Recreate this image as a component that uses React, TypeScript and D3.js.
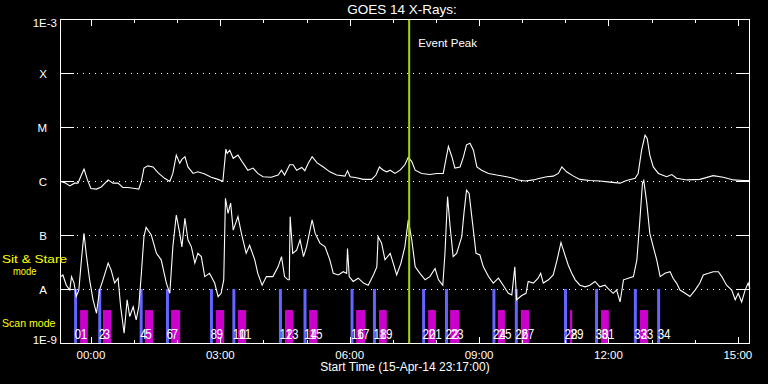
import React from 'react';
import * as d3 from 'd3';

// ---------- data ----------
const titleText = 'GOES 14 X-Rays:';
const xAxisTitle = 'Start Time (15-Apr-14 23:17:00)';
const startHour = -43 / 60; // 23:17 on 15-Apr, hours relative to 16-Apr 00:00
const spanHours = 16;

const classLevels = [1e-4, 1e-5, 1e-6, 1e-7, 1e-8];
const classLetters = ['X', 'M', 'C', 'B', 'A'];
const topLabel = '1E-3';
const bottomLabel = '1E-9';

const timeTickHours = [0, 3, 6, 9, 12, 15];
const timeTickLabels = ['00:00', '03:00', '06:00', '09:00', '12:00', '15:00'];
const minorTickHours = [1, 2, 4, 5, 7, 8, 10, 11, 13, 14];

const eventPeakHour = 7.38;

// long channel (1-8 A): [hour, log10 flux]
const longChannel: [number, number][] = [
  [-0.70, -6.01], [-0.61, -6.03], [-0.49, -6.09], [-0.38, -6.04], [-0.30, -6.04], [-0.22, -5.89],
  [-0.16, -5.78], [-0.08, -5.98], [0.00, -6.14], [0.13, -6.15], [0.24, -6.11], [0.40, -5.98],
  [0.51, -6.04], [0.63, -6.04], [0.74, -6.12], [0.86, -6.12], [1.02, -6.14], [1.11, -6.15],
  [1.17, -6.01], [1.23, -5.76], [1.32, -5.72], [1.44, -5.74], [1.56, -5.85], [1.71, -5.95],
  [1.83, -6.01], [1.90, -5.86], [1.98, -5.52], [2.06, -5.67], [2.11, -5.60], [2.18, -5.55],
  [2.25, -5.74], [2.37, -5.86], [2.48, -5.83], [2.64, -5.87], [2.79, -5.93], [2.95, -5.97],
  [3.06, -6.01], [3.13, -5.41], [3.16, -5.49], [3.22, -5.43], [3.30, -5.58], [3.41, -5.52],
  [3.53, -5.67], [3.64, -5.80], [3.76, -5.76], [3.87, -5.86], [3.99, -5.92], [4.18, -5.93],
  [4.34, -5.89], [4.42, -5.80], [4.49, -5.89], [4.61, -5.70], [4.69, -5.70], [4.77, -5.80],
  [4.89, -5.75], [4.96, -5.81], [5.04, -5.67], [5.13, -5.55], [5.24, -5.66], [5.39, -5.74],
  [5.54, -5.83], [5.70, -5.89], [5.89, -5.91], [5.95, -5.81], [6.01, -5.92], [6.16, -5.94],
  [6.32, -5.97], [6.51, -5.97], [6.61, -5.89], [6.69, -5.74], [6.78, -5.80], [6.86, -5.83],
  [6.94, -5.80], [7.05, -5.86], [7.17, -5.80], [7.28, -5.70], [7.36, -5.56], [7.44, -5.64],
  [7.52, -5.80], [7.67, -5.86], [7.86, -5.88], [8.02, -5.86], [8.17, -5.86], [8.23, -5.61],
  [8.29, -5.36], [8.37, -5.55], [8.44, -5.76], [8.56, -5.74], [8.64, -5.55], [8.71, -5.33],
  [8.79, -5.30], [8.87, -5.43], [8.95, -5.74], [9.06, -5.80], [9.22, -5.86], [9.41, -5.89],
  [9.64, -5.92], [9.79, -5.95], [9.91, -5.98], [10.07, -6.00], [10.26, -5.98], [10.41, -5.95],
  [10.57, -5.92], [10.72, -5.91], [10.84, -5.86], [10.92, -5.74], [11.03, -5.83], [11.19, -5.91],
  [11.34, -5.97], [11.57, -5.99], [11.80, -6.00], [12.04, -6.02], [12.27, -6.04], [12.42, -5.99],
  [12.62, -5.95], [12.69, -5.86], [12.77, -5.43], [12.85, -5.15], [12.90, -5.21], [12.96, -5.52],
  [13.04, -5.74], [13.16, -5.86], [13.35, -5.92], [13.47, -5.88], [13.58, -5.95], [13.82, -5.98],
  [14.12, -5.97], [14.43, -5.90], [14.66, -5.93], [14.90, -5.98], [15.13, -5.99], [15.28, -5.99],
];

// short channel (0.5-4 A): [hour, log10 flux]
const shortChannel: [number, number][] = [
  [-0.70, -7.77], [-0.65, -7.74], [-0.57, -7.93], [-0.49, -8.02], [-0.45, -7.77], [-0.39, -7.89],
  [-0.34, -8.14], [-0.28, -8.02], [-0.22, -7.46], [-0.16, -6.97], [-0.11, -7.34], [-0.03, -7.83],
  [0.05, -8.20], [0.13, -8.45], [0.20, -8.02], [0.28, -7.83], [0.40, -7.52], [0.47, -7.65],
  [0.55, -7.89], [0.63, -7.80], [0.69, -8.33], [0.77, -8.82], [0.84, -8.20], [0.90, -8.51],
  [0.98, -8.33], [1.05, -8.57], [1.11, -8.33], [1.17, -7.71], [1.23, -7.03], [1.28, -6.86],
  [1.40, -7.00], [1.52, -7.34], [1.63, -7.46], [1.75, -7.89], [1.83, -8.08], [1.90, -7.22],
  [1.98, -6.63], [2.06, -6.97], [2.11, -7.22], [2.18, -6.69], [2.25, -7.09], [2.33, -7.22],
  [2.41, -7.52], [2.48, -7.34], [2.56, -7.40], [2.64, -7.77], [2.75, -7.71], [2.87, -7.89],
  [2.95, -8.14], [3.02, -8.08], [3.08, -7.83], [3.12, -6.32], [3.18, -6.60], [3.24, -6.41],
  [3.30, -6.91], [3.41, -6.66], [3.49, -6.97], [3.60, -7.34], [3.68, -7.19], [3.80, -7.46],
  [3.87, -7.71], [3.97, -7.93], [4.07, -7.77], [4.22, -7.77], [4.34, -7.59], [4.42, -7.40],
  [4.49, -7.77], [4.57, -7.83], [4.60, -7.83], [4.62, -6.66], [4.68, -7.34], [4.77, -7.28],
  [4.85, -7.09], [4.93, -7.40], [5.00, -7.22], [5.08, -6.91], [5.13, -6.72], [5.20, -6.97],
  [5.31, -7.15], [5.43, -7.22], [5.54, -7.46], [5.62, -7.71], [5.74, -7.74], [5.85, -7.68],
  [5.93, -7.71], [5.95, -7.25], [5.99, -7.77], [6.08, -7.86], [6.20, -7.80], [6.32, -7.89],
  [6.43, -7.93], [6.55, -7.74], [6.63, -7.59], [6.66, -7.03], [6.74, -7.15], [6.82, -7.46],
  [6.94, -7.34], [7.01, -7.52], [7.09, -7.74], [7.19, -7.52], [7.28, -7.22], [7.36, -6.72],
  [7.44, -7.09], [7.52, -7.59], [7.63, -7.71], [7.75, -7.83], [7.86, -7.77], [7.98, -7.62],
  [8.06, -7.83], [8.16, -7.93], [8.21, -7.34], [8.27, -6.29], [8.33, -6.85], [8.40, -7.40],
  [8.48, -7.34], [8.60, -7.03], [8.65, -6.60], [8.71, -6.17], [8.77, -6.23], [8.85, -6.78],
  [8.93, -7.34], [9.02, -7.37], [9.10, -7.59], [9.22, -7.77], [9.33, -7.89], [9.45, -7.80],
  [9.56, -7.93], [9.68, -8.08], [9.76, -8.11], [9.83, -7.59], [9.87, -8.20], [9.99, -8.12],
  [10.09, -8.08], [10.14, -7.86], [10.26, -7.89], [10.37, -7.80], [10.43, -7.71], [10.49, -7.89],
  [10.61, -7.83], [10.72, -7.74], [10.81, -7.46], [10.90, -7.14], [10.98, -7.34], [11.07, -7.56],
  [11.15, -7.71], [11.23, -7.83], [11.34, -7.93], [11.46, -7.96], [11.57, -7.93], [11.69, -7.86],
  [11.80, -7.96], [11.92, -7.93], [11.99, -7.99], [12.11, -8.08], [12.19, -8.02], [12.27, -8.24],
  [12.35, -7.83], [12.46, -7.80], [12.58, -7.77], [12.66, -7.46], [12.73, -6.72], [12.79, -6.04],
  [12.82, -5.99], [12.89, -6.41], [12.96, -6.97], [13.04, -7.22], [13.12, -7.46], [13.20, -7.77],
  [13.31, -7.71], [13.43, -7.68], [13.50, -7.80], [13.58, -7.89], [13.66, -8.02], [13.78, -8.08],
  [13.89, -8.14], [14.01, -8.02], [14.12, -7.89], [14.20, -7.74], [14.32, -7.71], [14.43, -7.68],
  [14.55, -7.68], [14.63, -7.77], [14.74, -7.93], [14.86, -8.02], [14.94, -8.20], [15.01, -8.08],
  [15.09, -8.24], [15.17, -8.02], [15.24, -7.89], [15.28, -7.99],
];

// observations: sit & stare starts (hours) and scan intervals (hours)
const sitStareStart = [-0.39, 0.17, 1.13, 1.74, 2.76, 3.28, 4.36, 4.93, 6.02, 6.54, 7.68, 8.21, 9.31, 9.83, 10.97, 11.69, 12.59, 13.13];
const scanStart = [-0.25, 0.28, 1.25, 1.86, 2.90, 3.41, 4.50, 5.06, 6.15, 6.68, 7.82, 8.33, 9.44, 9.97, 11.11, 11.83, 12.73];
const scanEnd = [-0.07, 0.47, 1.44, 2.07, 3.09, 3.60, 4.69, 5.25, 6.36, 6.86, 8.00, 8.54, 9.60, 10.16, 11.16, 12.01, 12.92];

// ---------- layout ----------
const W = 768;
const H = 384;
const L = 60;
const R = 750;
const T = 19;
const B = 343;
const FONT = 'Liberation Sans, Arial, sans-serif';

export default function App() {
  const x = d3.scaleLinear().domain([startHour, startHour + spanHours]).range([L, R]);
  const y = d3.scaleLog().domain([1e-9, 1e-3]).range([B, T]);

  const line = d3
    .line<[number, number]>()
    .x((d) => x(d[0]))
    .y((d) => y(Math.pow(10, d[1])));

  const labels: { h: number; text: string }[] = [];
  sitStareStart.forEach((h, i) => {
    labels.push({ h, text: String(2 * i) });
    if (i < scanStart.length) labels.push({ h: scanStart[i], text: String(2 * i + 1) });
  });

  const yA = y(1e-8);
  const yScanTop = y(Math.pow(10, -8.39));

  return (
    <svg
      width={W}
      height={H}
      style={{ position: 'absolute', left: 0, top: 0, display: 'block' }}
      fontFamily={FONT}
    >
      <rect x={0} y={0} width={W} height={H} fill="#000" />

      {/* grid dotted lines */}
      {classLevels.map((v, i) => (
        <g key={'g' + i}>
          <line x1={L + 17} x2={R - 14} y1={Math.round(y(v)) + 0.5} y2={Math.round(y(v)) + 0.5} stroke="#fff" strokeWidth={1} strokeDasharray="1,5" />
          <line x1={L} x2={L + 14} y1={Math.round(y(v)) + 0.5} y2={Math.round(y(v)) + 0.5} stroke="#fff" strokeWidth={1} />
          <line x1={R - 14} x2={R} y1={Math.round(y(v)) + 0.5} y2={Math.round(y(v)) + 0.5} stroke="#fff" strokeWidth={1} />
          <text x={47} y={y(v) + 4.5} fill="#fff" fontSize={11.5} textAnchor="end">{classLetters[i]}</text>
        </g>
      ))}
      <text x={57} y={27} fill="#fff" fontSize={11.5} textAnchor="end">{topLabel}</text>
      <text x={57} y={344} fill="#fff" fontSize={11.5} textAnchor="end">{bottomLabel}</text>

      {/* observation bars */}
      {sitStareStart.map((h, i) => (
        <rect key={'b' + i} x={x(h)} y={yA} width={3} height={B - yA} fill="#6464ff" />
      ))}
      {scanStart.map((h, i) => (
        <rect key={'m' + i} x={x(h)} y={yScanTop} width={Math.max(2, x(scanEnd[i]) - x(h))} height={B - yScanTop} fill="#cc00cc" />
      ))}
      {labels.map((d, i) => (
        <text
          key={'l' + i}
          x={x(d.h) + 0.5}
          y={339}
          fill="#fff"
          fontSize={14}
          textLength={d.text.length * 6.5}
          lengthAdjust="spacingAndGlyphs"
        >
          {d.text}
        </text>
      ))}

      {/* curves */}
      <path d={line(longChannel) || ''} fill="none" stroke="#fff" strokeWidth={1.1} />
      <path d={line(shortChannel) || ''} fill="none" stroke="#fff" strokeWidth={1.1} />

      {/* event peak */}
      <line x1={x(eventPeakHour)} x2={x(eventPeakHour)} y1={T} y2={B} stroke="#a8d400" strokeWidth={2} />
      <text x={x(eventPeakHour) + 9} y={47} fill="#fff" fontSize={11.5}>Event Peak</text>

      {/* frame */}
      <rect x={L + 0.5} y={T + 0.5} width={R - L - 1} height={B - T} fill="none" stroke="#fff" strokeWidth={1} />

      {/* time ticks */}
      {timeTickHours.map((h, i) => (
        <g key={'t' + i}>
          <line x1={Math.round(x(h)) + 0.5} x2={Math.round(x(h)) + 0.5} y1={T} y2={T + 7} stroke="#fff" />
          <line x1={Math.round(x(h)) + 0.5} x2={Math.round(x(h)) + 0.5} y1={B} y2={B - 6} stroke="#fff" />
          <text x={x(h)} y={359} fill="#fff" fontSize={11.5} textAnchor="middle">{timeTickLabels[i]}</text>
        </g>
      ))}
      {minorTickHours.map((h, i) => (
        <g key={'mt' + i}>
          <line x1={Math.round(x(h)) + 0.5} x2={Math.round(x(h)) + 0.5} y1={T} y2={T + 4} stroke="#fff" />
          <line x1={Math.round(x(h)) + 0.5} x2={Math.round(x(h)) + 0.5} y1={B} y2={B - 3} stroke="#fff" />
        </g>
      ))}

      {/* titles */}
      <text x={402} y={14} fill="#fff" fontSize={13.5} textAnchor="middle">{titleText}</text>
      <text x={405} y={371} fill="#fff" fontSize={12} textAnchor="middle">{xAxisTitle}</text>

      {/* mode labels */}
      <text x={2} y={263} fill="#ffff00" fontSize={11.5} textLength={65} lengthAdjust="spacingAndGlyphs">Sit &amp; Stare</text>
      <text x={13} y={275} fill="#ffff00" fontSize={11.5} textLength={23.5} lengthAdjust="spacingAndGlyphs">mode</text>
      <text x={2} y={327} fill="#ffff00" fontSize={11.5} textLength={53.5} lengthAdjust="spacingAndGlyphs">Scan mode</text>
    </svg>
  );
}
